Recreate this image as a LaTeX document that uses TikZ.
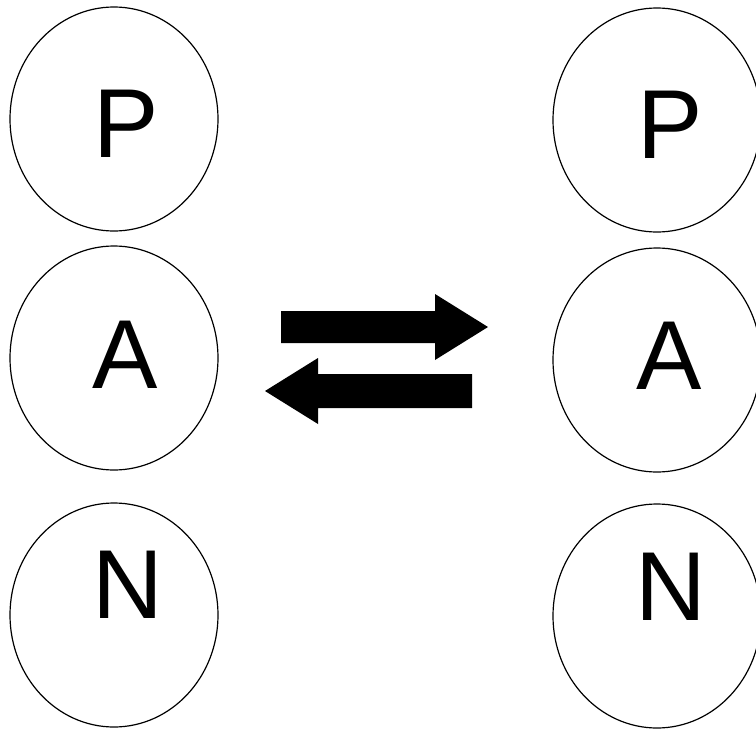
\documentclass[tikz,border=0pt]{standalone}
\usepackage{fontspec}
\setmainfont{Liberation Sans}
\usetikzlibrary{shapes.geometric}
\begin{document}
\begin{tikzpicture}[x=1pt,y=-1pt,
  blob/.style={draw=black, line width=1.2pt, ellipse, inner sep=0pt, minimum width=208pt, minimum height=224pt},
  letter/.style={anchor=base, inner sep=0pt, font=\fontsize{98}{98}\selectfont},
  bigarrow/.style={fill=black, draw=none}]
\useasboundingbox (0,0) rectangle (756,729);
% left column
\node[blob] (lp) at (114,119) {};
\node[blob] (la) at (114,358) {};
\node[blob] (ln) at (114,615) {};
% right column
\node[blob] (rp) at (657,120) {};
\node[blob] (ra) at (657,360) {};
\node[blob] (rn) at (657,616) {};
% letters
\node[letter] (lpt) at (126,157) {P};
\node[letter] (lat) at (125,388) {A};
\node[letter] (lnt) at (127.5,618) {N};
\node[letter] (rpt) at (670,158) {P};
\node[letter] (rat) at (669.5,389) {A};
\node[letter] (rnt) at (670.5,620) {N};
% arrows
\fill[bigarrow] (281,311) -- (435,311) -- (435,294) -- (488,327) -- (435,360) -- (435,343) -- (281,343) -- cycle;
\fill[bigarrow] (472,374) -- (318,374) -- (318,358) -- (265,391) -- (318,424) -- (318,408) -- (472,408) -- cycle;
\end{tikzpicture}
\end{document}
